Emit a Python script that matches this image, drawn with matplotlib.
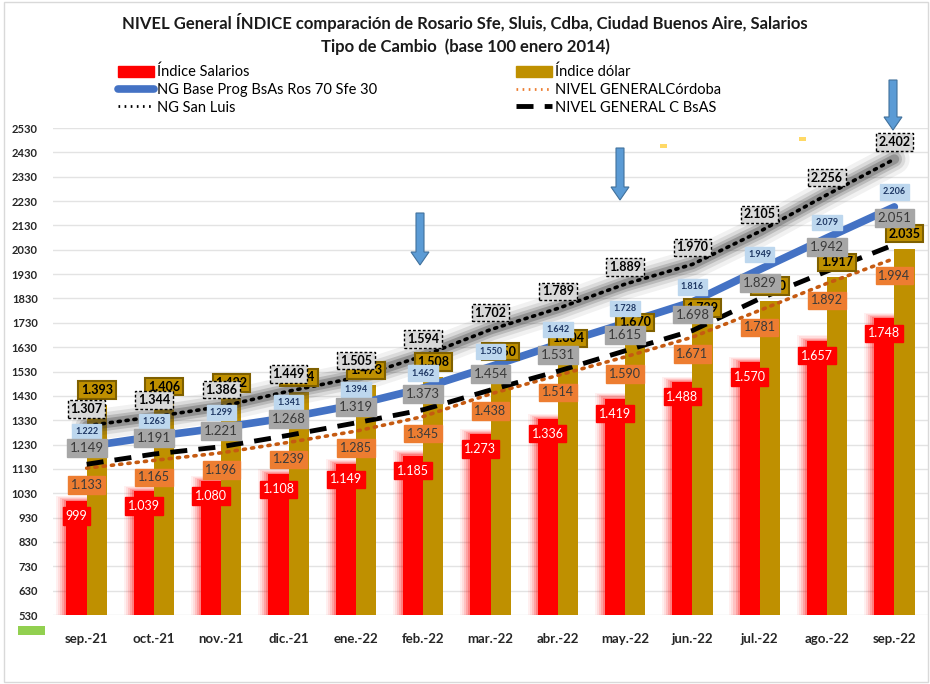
import matplotlib
matplotlib.use('Agg')
import matplotlib.pyplot as plt
import numpy as np
from matplotlib.patches import Rectangle, FancyArrow, Patch
from matplotlib.lines import Line2D
from matplotlib.transforms import IdentityTransform

months = ['sep.-21', 'oct.-21', 'nov.-21', 'dic.-21', 'ene.-22', 'feb.-22', 'mar.-22',
          'abr.-22', 'may.-22', 'jun.-22', 'jul.-22', 'ago.-22', 'sep.-22']
salarios = [999, 1039, 1080, 1108, 1149, 1185, 1273, 1336, 1419, 1488, 1570, 1657, 1748]
dolar = [1393, 1406, 1422, 1444, 1473, 1508, 1550, 1604, 1670, 1729, 1820, 1917, 2035]
ng_base = [1222, 1263, 1299, 1341, 1394, 1462, 1550, 1642, 1728, 1816, 1949, 2079, 2206]
cordoba = [1133, 1165, 1196, 1239, 1285, 1345, 1438, 1514, 1590, 1671, 1781, 1892, 1994]
san_luis = [1307, 1344, 1386, 1449, 1505, 1594, 1702, 1789, 1889, 1970, 2105, 2256, 2402]
c_bsas = [1149, 1191, 1221, 1268, 1319, 1373, 1454, 1531, 1615, 1698, 1829, 1942, 2051]
yticks = list(range(530, 2531, 100))

plt.rcParams['font.family'] = ['Lato', 'DejaVu Sans']

W, H = 930, 684
fig = plt.figure(figsize=(W / 100, H / 100), dpi=100)
ax = fig.add_axes([53 / W, 1 - 615 / H, (928 - 53) / W, (615 - 128) / H])

x = np.arange(len(months))
bw = 0.3
xs = x - 0.15
xd = x + 0.15

# glow of salary bars
for extra, a in [(0.30, 0.06), (0.24, 0.08), (0.18, 0.12), (0.12, 0.16), (0.06, 0.22)]:
    ax.bar(xs, np.array(salarios) + extra * 70 - 530, width=bw + extra, bottom=530,
           color='#FF0000', alpha=a, lw=0, zorder=1)
ax.bar(xs, np.array(salarios) - 530, width=bw, bottom=530, color='#FF0000', lw=0, zorder=2)
ax.bar(xd, np.array(dolar) - 530, width=bw, bottom=530, color='#BF9000', lw=0, zorder=2)

# San Luis glow
for lw_, a in [(22, 0.07), (16, 0.12), (11, 0.2), (7, 0.3)]:
    ax.plot(x, san_luis, color='#3a3a3a', lw=lw_, alpha=a, solid_capstyle='round', zorder=3)
ax.plot(x, san_luis, color='black', lw=2.6, ls=(0, (0.6, 1.6)), dash_capstyle='round', zorder=4)
ax.plot(x, ng_base, color='#4472C4', lw=5.5, solid_capstyle='round', zorder=4)
ax.plot(x, cordoba, color='#C55A11', lw=2.6, ls=(0, (0.6, 1.7)), dash_capstyle='round', zorder=4)
ax.plot(x, c_bsas, color='black', lw=3.5, ls=(0, (3.5, 2.3)), zorder=4)


def fmt(v):
    return f"{v:,}".replace(',', '.')


def lab(xi, yi, v, dy, fc, ec, tc, fs, weight='normal', ls='solid', z=6, lw=1.0, pad=0.22):
    ax.annotate(fmt(v), (xi, yi), xytext=(0, dy), textcoords='offset pixels',
                ha='center', va='center', fontsize=fs, color=tc, fontweight=weight,
                bbox=dict(boxstyle=f'square,pad={pad}', fc=fc, ec=ec, ls=ls, lw=lw),
                zorder=z, annotation_clip=False)


gray_dy = [16] * 11 + [24, 27]
for i in range(len(months)):
    lab(xd[i], dolar[i], dolar[i], 15, '#BF9000', '#7F6000', 'black', 9, 'bold', z=5, lw=1.5)
    lab(xs[i], salarios[i], salarios[i], -15, '#FF0000', '#FF0000', 'white', 9, z=6)
    lab(x[i], cordoba[i], cordoba[i], -17, '#ED7D31', '#ED7D31', '#3a3a3a', 9, z=6)
    lab(x[i], ng_base[i], ng_base[i], 15, '#BDD7EE', '#BDD7EE', '#1F3864', 6.5, 'bold', z=7, pad=0.35)
    lab(x[i], c_bsas[i], c_bsas[i], gray_dy[i], '#A6A6A6', '#A6A6A6', '#3a3a3a', 9.5, z=8)
    lab(x[i], san_luis[i], san_luis[i], 17, '#D9D9D9', 'black', 'black', 9, 'bold', ls=(0, (2, 1.5)), z=9)

ax.set_xlim(-0.5, len(months) - 0.5)
ax.set_ylim(530, 2530)
ax.set_yticks(yticks)
ax.set_yticklabels([str(t) for t in yticks], fontsize=8, fontweight='bold', color='#262626')
ax.set_xticks(x)
ax.set_xticklabels(months, fontsize=9.5, fontweight='bold', color='#262626')
ax.tick_params(axis='y', length=0, pad=11)
ax.tick_params(axis='x', length=0, pad=13)
ax.grid(axis='y', color='#e3e3e3', lw=1, zorder=0)
ax.set_axisbelow(True)
for s in ax.spines.values():
    s.set_visible(False)

fig.text(0.5, 1 - 22 / H, 'NIVEL General ÍNDICE comparación de Rosario Sfe, Sluis, Cdba, Ciudad Buenos Aire, Salarios',
         ha='center', va='center', fontsize=12, fontweight='bold', color='#1a1a1a')
fig.text(0.5, 1 - 47 / H, 'Tipo de Cambio  (base 100 enero 2014)',
         ha='center', va='center', fontsize=12, fontweight='bold', color='#1a1a1a')

h_left = [Patch(color='#FF0000'),
          Line2D([], [], color='#4472C4', lw=5.5, solid_capstyle='round'),
          Line2D([], [], color='black', lw=2, ls=(0, (0.6, 1.6)))]
l_left = ['Índice Salarios', 'NG Base Prog BsAs Ros 70 Sfe 30', 'NG San Luis']
h_right = [Patch(color='#BF9000'),
           Line2D([], [], color='#ED7D31', lw=2, ls=(0, (0.6, 1.6))),
           Line2D([], [], color='black', lw=3.5, ls=(0, (3.5, 2.3)))]
l_right = ['Índice dólar', 'NIVEL GENERALCórdoba', 'NIVEL GENERAL C BsAS']
common = dict(frameon=False, fontsize=10.5, handlelength=2.5, handleheight=0.8,
              handletextpad=0.2, labelspacing=0.25, borderpad=0, borderaxespad=0,
              loc='upper left')
leg1 = fig.legend(h_left, l_left, bbox_to_anchor=(118 / W, 1 - 65 / H), **common)
leg2 = fig.legend(h_right, l_right, bbox_to_anchor=(516 / W, 1 - 65 / H), **common)

# decorative arrows (pixel coordinates)
for (ax_x, y_top, y_bot) in [(420, 213, 265), (620, 148, 200), (893, 80, 130)]:
    arr = FancyArrow(ax_x, H - y_top, 0, -(y_bot - y_top), width=8, head_width=18,
                     head_length=13, length_includes_head=True, fc='#5B9BD5', ec='#41719C',
                     lw=0.8, transform=IdentityTransform(), zorder=10)
    fig.add_artist(arr)

for (rx, ry) in [(660, 144), (799, 137)]:
    fig.add_artist(Rectangle((rx, H - ry - 4), 7, 4, fc='#FFD966', ec='none',
                             transform=IdentityTransform()))
fig.add_artist(Rectangle((18, H - 635), 27, 9, fc='#92D050', ec='none',
                         transform=IdentityTransform()))
fig.add_artist(Rectangle((4, 2), W - 6, H - 4, fc='none', ec='#d9d9d9', lw=1,
                         transform=IdentityTransform()))

fig.savefig('out.png', dpi=100)
